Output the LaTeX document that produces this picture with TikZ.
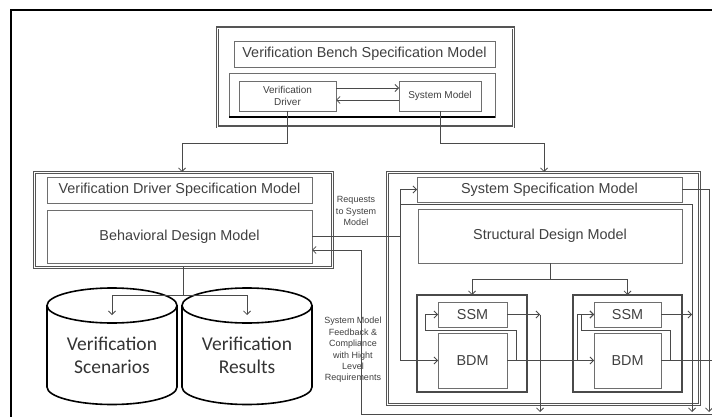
\documentclass[tikz,border=0pt]{standalone}
\usepackage{fontspec}
\setmainfont{Liberation Sans}
\newfontfamily\calfont{Carlito}
\usetikzlibrary{arrows.meta,calc}
\definecolor{lnc}{HTML}{4A4A4A}
\definecolor{txc}{HTML}{404040}
\definecolor{bxc}{HTML}{6E6E6E}
\definecolor{obc}{HTML}{555555}
\begin{document}
\begin{tikzpicture}[x=1pt,y=-1pt,
  every node/.style={inner sep=0pt, outer sep=0pt, text=txc},
  box/.style={draw=bxc, line width=0.9pt, fill=white, font=\fontsize{14.4}{16}\selectfont, align=center},
  smallbox/.style={draw=bxc, line width=0.8pt, fill=white, font=\fontsize{10}{11.5}\selectfont, align=center},
  outerbox/.style={draw=obc, line width=3pt},
  innerline/.style={draw=white, line width=0.9pt},
  subbox/.style={draw=lnc, line width=1.8pt},
  conn/.style={draw=lnc, line width=0.8pt},
  arr/.style={conn, -{Straight Barb[length=3.5pt,width=7pt]}},
  lbl/.style={font=\fontsize{9}{11.4}\selectfont, align=center, text=txc},
  cyl/.style={draw=black, line width=1.6pt},
  cyltext/.style={font=\calfont\fontsize{19.5}{23}\selectfont, align=center, text=black!80}
]
\useasboundingbox (0,0) rectangle (712,417);
\clip (0,0) rectangle (712,417);
\fill[white] (0,0) rectangle (712,417);
% outer frame
\draw[line width=1.8pt] (11,425) -- (11,10) -- (720,10);

% ---- top block
\node[outerbox, minimum width=296pt, minimum height=99pt] (vbo) at (365,77.5) {};
\draw[innerline] (vbo.south west) rectangle (vbo.north east);
\node[box, minimum width=261pt, minimum height=26pt] (vbt) at (364.5,54) {Verification Bench Specification Model};
\node[draw=bxc, line width=0.8pt, minimum width=266pt, minimum height=44pt] (vbi) at (362,95) {};
\draw[line width=2pt] (vbi.south west) -- (vbi.south east);
\node[smallbox, minimum width=97pt, minimum height=30pt] (vd) at (287.5,96) {Verification\\Driver};
\node[smallbox, minimum width=82pt, minimum height=30pt] (sm) at (440,96) {System Model};

% ---- left block
\node[outerbox, minimum width=298pt, minimum height=95pt] (vdo) at (183,219.5) {};
\draw[innerline] (vdo.south west) rectangle (vdo.north east);
\node[box, minimum width=265pt, minimum height=26pt] (vdt) at (179.5,190) {Verification Driver Specification Model};
\node[box, minimum width=265pt, minimum height=53pt] (bdm0) at (179.5,236.5) {Behavioral Design Model};

% cylinders
\draw[cyl, fill=white] (47,305.5) -- (47,387) arc[start angle=180,end angle=360,x radius=65pt,y radius=17.5pt] -- (177,305.5);
\draw[cyl, fill=white] (112,305.5) ellipse [x radius=65pt, y radius=17.5pt];
\draw[cyl, fill=white] (182,305.5) -- (182,387) arc[start angle=180,end angle=360,x radius=65pt,y radius=17.5pt] -- (312,305.5);
\draw[cyl, fill=white] (247,305.5) ellipse [x radius=65pt, y radius=17.5pt];
\node[cyltext] (cyl1) at (112,355) {Verification\\Scenarios};
\node[cyltext] (cyl2) at (247,355) {Verification\\Results};

% ---- right block
\node[outerbox, minimum width=312pt, minimum height=232pt] (sso) at (543,288) {};
\draw[innerline] (sso.south west) rectangle (sso.north east);
\node[box, minimum width=265pt, minimum height=25pt] (sst) at (549.5,189.5) {System Specification Model};
\node[box, minimum width=264pt, minimum height=54pt] (sdm) at (550,236) {Structural Design Model};
\node[subbox, minimum width=110pt, minimum height=97pt] (c1) at (472,343.5) {};
\node[box, minimum width=69pt, minimum height=25pt] (ssm1) at (472.5,314.5) {SSM};
\node[box, minimum width=69pt, minimum height=55pt] (bdm1) at (472.5,360.5) {BDM};
\node[subbox, minimum width=109pt, minimum height=97pt] (c2) at (627.5,343.5) {};
\node[box, minimum width=67pt, minimum height=25pt] (ssm2) at (627.5,314.5) {SSM};
\node[box, minimum width=67pt, minimum height=55pt] (bdm2) at (627.5,360.5) {BDM};

% labels
\node[lbl] (req) at (356,211) {Requests\\to System\\Model};
\node[lbl] (fbl) at (353,350) {System Model\\Feedback \&\\Compliance\\with Hight\\Level\\Requirements};

% ---- connectors
\draw[arr] ([yshift=8pt]vd.east) -- ([yshift=8pt]sm.west);
\draw[arr] ([yshift=-4pt]sm.west) -- ([yshift=-4pt]vd.east);
\coordinate (j1) at (182,143);
\coordinate (j2) at (544,143);
\draw[arr] (vd.south) |- (j1) -- (vdo.north -| j1);
\draw[arr] (sm.south) |- (j2) -- (sso.north -| j2);

\coordinate (j3) at (182,295);
\coordinate (c1top) at (112,315);
\coordinate (c2top) at (247,315);
\draw[conn] (vdo.south) -- (vdo.south |- j3);
\draw[arr] (vdo.south |- j3) -| (c1top);
\draw[arr] (vdo.south |- j3) -| (c2top);

\coordinate (j4) at (400,237);
\draw[conn] (bdm0.east) -- (bdm0.east -| j4);
\draw[conn] (sst.west -| j4) -- (bdm1.west -| j4);
\draw[arr] (sst.west -| j4) -- (sst.west);
\draw[arr] (bdm1.west -| j4) -- (bdm1.west);

\coordinate (g1) at (400,204);
\coordinate (g2) at (692,204);
\coordinate (g3) at (692,412);
\draw[arr] (g1) -- (g2) -- (g3);

\coordinate (j5) at (550,279);
\draw[conn] (sdm.south) -- (sdm.south |- j5);
\draw[conn] (c1.north |- j5) -- (c2.north |- j5);
\draw[arr] (c1.north |- j5) -- (c1.north);
\draw[arr] (c2.north |- j5) -- (c2.north);

\coordinate (f1) at (516,330);
\coordinate (f1b) at (425,330);
\draw[arr] (bdm1.east -| f1) -- (f1) -- (f1b) -- (ssm1.west -| f1b) -- (ssm1.west);
\coordinate (o1) at (540,314.5);
\coordinate (o1b) at (540,412);
\draw[arr] (ssm1.east) -- (o1);
\draw[arr] (o1) -- (o1b);
\draw[arr] (bdm1.east) -- (bdm2.west);

\coordinate (k1) at (577,360.5);
\draw[arr] (k1) -- (k1 |- ssm2.west) -- (ssm2.west);
\coordinate (f2) at (670,330);
\coordinate (f2b) at (581,330);
\draw[arr] (bdm2.east -| f2) -- (f2) -- (f2b) -- (ssm2.west -| f2b) -- (ssm2.west);
\draw[arr] (ssm2.east) -- (ssm2.east -| g2);
\coordinate (edge1) at (716,0);
\draw[conn] (bdm2.east) -- (bdm2.east -| edge1);
\coordinate (e1) at (709,189.5);
\coordinate (e2) at (709,412);
\draw[arr] (sst.east) -- (e1) -- (e2);

\coordinate (fb0) at (716,414);
\coordinate (fb1) at (361,414);
\coordinate (fb2) at (361,250);
\draw[arr] (fb0) -- (fb1) -- (fb2) -- (bdm0.east |- fb2);
\end{tikzpicture}
\end{document}
